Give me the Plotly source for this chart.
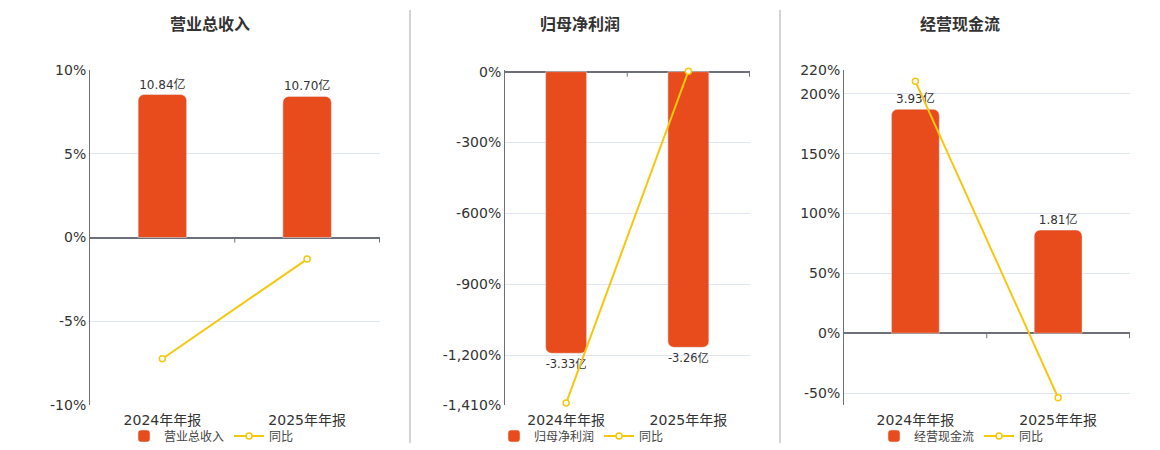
import plotly.graph_objects as go

periods = ["2024年年报", "2025年年报"]

revenue = [10.84, 10.70]
revenue_yoy = [-7.24, -1.29]

profit = [-3.33, -3.26]
profit_yoy = [-1402, 2.1]

cash = [3.93, 1.81]
cash_yoy = [210.5, -53.94]

titles = ["营业总收入", "归母净利润", "经营现金流"]

# left axis ticks (percent) per panel, "" = gridline only
pct_ticks = [
    [10, 5, 0, -5, -10],
    [7, 0, -300, -600, -900, -1200, -1410],
    [220, 200, 150, 100, 50, 0, -50, -60],
]
pct_labels = [
    ["10%", "5%", "0%", "-5%", "-10%"],
    ["", "0%", "-300%", "-600%", "-900%", "-1,200%", "-1,410%"],
    ["220%", "200%", "150%", "100%", "50%", "0%", "-50%", ""],
]
pct_ranges = [[-10, 10], [-1410, 7], [-60, 220]]
bar_ranges = [[-12.7, 12.7], [-3.942, 0.0196], [-1.26, 4.62]]

bars = [revenue, profit, cash]
yoys = [revenue_yoy, profit_yoy, cash_yoy]

BAR = "#E84C1D"
LINE = "#F4C80F"
AXIS = "#6E7079"
GRID = "#E0E6F1"
TXT = "#333333"
FONT = "DejaVu Sans, Noto Sans CJK SC"

W, H = 1160, 450
OFF = 8  # page body margin


def px(x):
    return (x - OFF) / W


def py(y):
    return (H - (y - OFF)) / H


x_domains = [[px(90), px(380)], [px(505), px(750)], [px(844), px(1130)]]
y_domain = [py(405), py(70)]
legend_x = [px(124), px(494), px(874)]
title_x = [px(210), px(580), px(960)]

fig = go.Figure()
layout = {}
shapes = []
annotations = []

for i in range(3):
    n = i + 1
    xa = "x" if n == 1 else f"x{n}"
    ybar = "y" if n == 1 else f"y{2 * n - 1}"
    ypct = f"y{2 * n}"
    leg = "legend" if n == 1 else f"legend{n}"

    fig.add_trace(go.Bar(
        x=periods, y=bars[i], name=titles[i], xaxis=xa, yaxis=ybar,
        marker=dict(color=BAR, cornerradius=6), width=0.335,
        text=[f"{v:.2f}亿" for v in bars[i]], textposition="outside",
        textfont=dict(size=12, color=TXT, family=FONT), cliponaxis=False,
        legend=leg, hoverinfo="skip",
    ))
    fig.add_trace(go.Scatter(
        x=periods, y=yoys[i], name="同比", xaxis=xa, yaxis=ypct,
        mode="lines+markers", line=dict(color=LINE, width=2),
        marker=dict(symbol="circle", size=6, color="white", line=dict(color=LINE, width=1.5)),
        cliponaxis=False, legend=leg, hoverinfo="skip",
    ))

    layout["xaxis" if n == 1 else f"xaxis{n}"] = dict(
        domain=x_domains[i], anchor=ybar, type="category",
        showline=False, showgrid=False, zeroline=False,
        ticks="outside", ticklen=2, tickcolor="rgba(0,0,0,0)",
        tickfont=dict(size=14, color=TXT, family=FONT),
    )
    layout["yaxis" if n == 1 else f"yaxis{2 * n - 1}"] = dict(
        domain=y_domain, anchor=xa, range=bar_ranges[i], visible=False,
    )
    layout[f"yaxis{2 * n}"] = dict(
        overlaying=ybar, anchor=xa, side="left", range=pct_ranges[i],
        tickmode="array", tickvals=pct_ticks[i], ticktext=pct_labels[i],
        showline=True, linecolor=AXIS, linewidth=1,
        showgrid=True, gridcolor=GRID, gridwidth=1,
        zeroline=True, zerolinecolor=AXIS, zerolinewidth=2,
        ticks="", tickfont=dict(size=14, color=TXT, family=FONT),
    )
    layout[leg] = dict(
        orientation="h", x=legend_x[i], y=py(436), xanchor="left", yanchor="middle",
        font=dict(size=12, color="#444", family="Noto Sans CJK SC"),
        bgcolor="rgba(0,0,0,0)", itemwidth=30, tracegroupgap=0,
    )

    # small ticks hanging from the zero line at the category boundaries
    for xv in [0.5, 1.5]:
        shapes.append(dict(
            type="line", xref=xa, yref=ypct, x0=xv, x1=xv,
            ysizemode="pixel", yanchor=0, y0=0, y1=-5,
            line=dict(color=AXIS, width=1),
        ))

    annotations.append(dict(
        text=f"<b>{titles[i]}</b>", xref="paper", yref="paper",
        x=title_x[i], y=py(23), xanchor="center", yanchor="middle",
        showarrow=False, font=dict(size=16, color=TXT, family="Noto Sans CJK SC"),
    ))

# panel dividers
for xd in [px(410), px(780)]:
    shapes.append(dict(
        type="line", xref="paper", yref="paper", x0=xd, x1=xd,
        y0=py(443), y1=py(10), line=dict(color="#AAAAAA", width=1),
    ))

fig.update_layout(
    width=W, height=H,
    margin=dict(l=0, r=0, t=0, b=0, autoexpand=False),
    paper_bgcolor="white", plot_bgcolor="white",
    shapes=shapes, annotations=annotations,
    **layout,
)

fig.write_html("out.html")
